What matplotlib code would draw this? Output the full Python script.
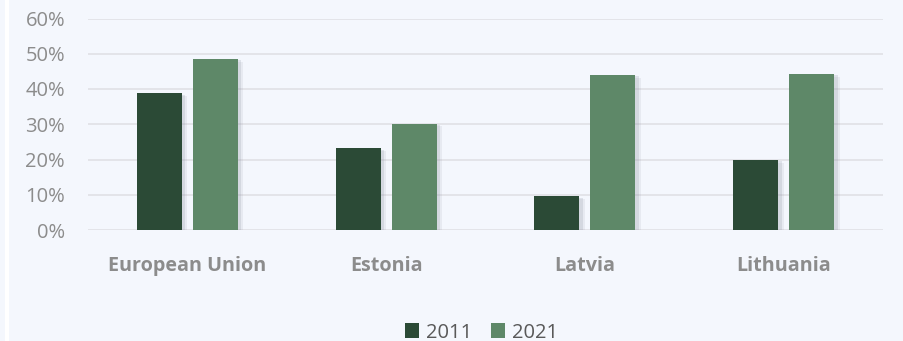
import matplotlib
matplotlib.use("Agg")
import matplotlib.pyplot as plt
import matplotlib.patheffects as pe
from matplotlib.patches import Rectangle, Patch
import numpy as np

categories = ["European Union", "Estonia", "Latvia", "Lithuania"]
years = ["2011", "2021"]
values_2011 = [38.8, 23.2, 9.6, 19.9]
values_2021 = [48.5, 30.2, 44.0, 44.3]
colors = ["#2b4a36", "#5e8868"]

plt.rcParams["font.family"] = ["Open Sans", "DejaVu Sans"]

bg = "#f4f7fd"
fig = plt.figure(figsize=(9.04, 3.41), dpi=100, facecolor=bg)
fig.patches.append(Rectangle((5 / 904, 0), 4 / 904, 1, transform=fig.transFigure,
                             facecolor="white", edgecolor="none", zorder=0))
ax = fig.add_axes([88 / 904, 111 / 341, 795 / 904, 211.5 / 341])
ax.set_facecolor(bg)

x = np.arange(len(categories))
w = 0.226
off = 0.141
shadow = [pe.SimplePatchShadow(offset=(4, -2), shadow_rgbFace="#8a90a0", alpha=0.12),
          pe.SimplePatchShadow(offset=(2.5, -1), shadow_rgbFace="#8a90a0", alpha=0.2),
          pe.Normal()]
b1 = ax.bar(x - off, values_2011, w, color=colors[0], zorder=3)
b2 = ax.bar(x + off, values_2021, w, color=colors[1], zorder=3)
for b in list(b1) + list(b2):
    b.set_path_effects(shadow)

ax.set_xlim(-0.5, len(categories) - 0.5)
ax.set_ylim(0, 60)
ax.set_yticks(range(0, 61, 10))
ax.set_yticklabels([f"{v}%" for v in range(0, 61, 10)])
ax.yaxis.grid(True, color="#e2e3e7", linewidth=1.3, zorder=0)
ax.set_axisbelow(True)
for s in ax.spines.values():
    s.set_visible(False)
ax.tick_params(axis="y", length=0, pad=16.5, labelsize=14.5, labelcolor="#8c8c8c")
ax.tick_params(axis="x", length=0, pad=18.5, labelsize=14.2, labelcolor="#8c8c8c")
ax.set_xticks(x)
ax.set_xticklabels(categories, fontweight="bold")

handles = [Patch(facecolor=c, label=y) for c, y in zip(colors, years)]
fig.legend(handles=handles, loc="lower center", bbox_to_anchor=(0.5326, -0.058), ncol=2,
           frameon=False, fontsize=14.5, labelcolor="#595959", handlelength=0.72,
           handleheight=0.72, handletextpad=0.35, columnspacing=0.9)

fig.savefig("out.png", dpi=100, facecolor=bg)
